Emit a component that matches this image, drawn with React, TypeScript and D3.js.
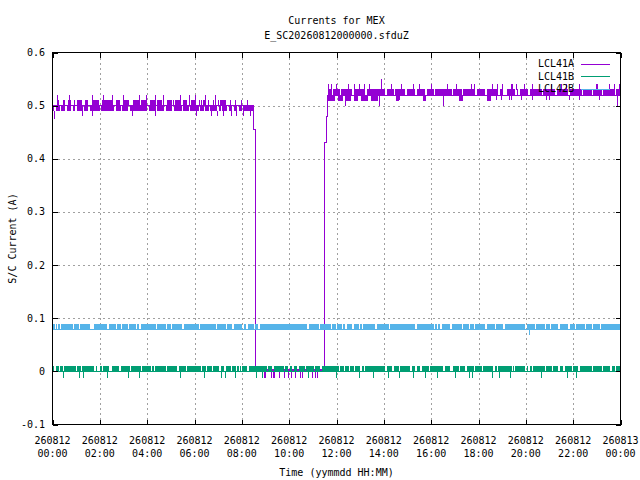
import React from 'react';
import * as d3 from 'd3';

const titleLines = ['Currents for MEX', 'E_SC20260812000000.sfduZ'];
const xLabel = 'Time (yymmdd HH:MM)';
const yLabel = 'S/C Current (A)';
const xTickHours = [0, 2, 4, 6, 8, 10, 12, 14, 16, 18, 20, 22, 24];
const xTickDates = ['260812', '260812', '260812', '260812', '260812', '260812', '260812', '260812', '260812', '260812', '260812', '260812', '260813'];
const xTickTimes = ['00:00', '02:00', '04:00', '06:00', '08:00', '10:00', '12:00', '14:00', '16:00', '18:00', '20:00', '22:00', '00:00'];
const yTicks = [-0.1, 0, 0.1, 0.2, 0.3, 0.4, 0.5, 0.6];
const yTickLabels = ['-0.1', '0', '0.1', '0.2', '0.3', '0.4', '0.5', '0.6'];
const seriesNames = ['LCL41A', 'LCL41B', 'LCL42B'];
const seriesColors = ['#9400d3', '#009e73', '#56b4e9'];

// ---- LCL41A ----
const lcl41aBase: [number, number][] = [[0, 0.5], [8.51, 0.455], [8.58, 0.0], [11.5, 0.43], [11.58, 0.48], [11.62, 0.52], [24, 0.52]];
const lcl41aBands: [number, number, number, number][] = [[0, 8.51, 0.49, 0.5], [8.58, 11.5, 0.0, 0.004], [11.62, 24, 0.52, 0.53]];
const lcl41aBlocks: [number, number, number, number][] = [
  [0.18, 0.29, 0.5, 0.51], [0.43, 0.53, 0.5, 0.51], [0.67, 0.77, 0.5, 0.51], [1.05, 1.23, 0.5, 0.51],
  [1.37, 1.51, 0.5, 0.51], [1.72, 1.97, 0.5, 0.51], [2.08, 2.5, 0.5, 0.51], [2.68, 2.85, 0.5, 0.51],
  [2.99, 3.2, 0.5, 0.51], [3.41, 3.69, 0.5, 0.51], [3.76, 3.94, 0.5, 0.51], [4.11, 4.32, 0.5, 0.51],
  [4.42, 4.61, 0.5, 0.51], [4.82, 5.03, 0.5, 0.51], [5.17, 5.38, 0.5, 0.51], [5.52, 5.69, 0.5, 0.51],
  [5.87, 6.08, 0.5, 0.51], [6.36, 6.5, 0.5, 0.51], [7.06, 7.35, 0.5, 0.51],
  [11.63, 11.92, 0.51, 0.52], [12.05, 12.26, 0.51, 0.52], [12.34, 12.62, 0.51, 0.52], [12.76, 12.9, 0.51, 0.52],
  [13.04, 13.32, 0.51, 0.52], [13.46, 13.74, 0.51, 0.52], [14.52, 14.66, 0.51, 0.52], [15.64, 15.78, 0.51, 0.52],
  [17.19, 17.33, 0.51, 0.52], [18.38, 18.52, 0.51, 0.52],
];
const lcl41aGaps = [
  0.11, 0.35, 0.57, 0.82, 0.99, 1.3, 1.55, 2.03, 2.64, 2.92, 3.24, 4.04, 4.4, 4.75, 5.1, 5.49, 5.8, 6.22,
  6.43, 6.64, 6.99, 7.14, 7.42, 7.63, 7.84, 8.02,
  11.84, 12.16, 12.69, 13.25, 14.1, 14.45, 14.94, 15.36, 15.78, 16.13, 16.9, 17.33, 17.89, 18.31, 18.87,
  19.08, 19.16, 19.58, 19.72, 20.14, 20.7, 21.27, 21.83, 22.39, 22.81, 23.23, 23.8,
];
const lcl41aSpikes: [number, number][] = [
  [0.2, 0.52], [0.71, 0.52], [1.65, 0.52], [2.14, 0.52], [2.5, 0.52], [2.99, 0.52], [3.65, 0.52], [3.97, 0.52],
  [4.32, 0.52], [4.67, 0.52], [5.38, 0.52], [5.76, 0.52], [6.01, 0.52], [6.43, 0.52], [6.85, 0.52],
  [0.45, 0.51], [0.9, 0.51], [1.2, 0.51], [1.4, 0.51], [1.9, 0.51], [2.3, 0.51], [2.7, 0.51], [3.2, 0.51],
  [3.4, 0.51], [3.8, 0.51], [4.1, 0.51], [4.5, 0.51], [4.9, 0.51], [5.1, 0.51], [5.5, 0.51], [5.9, 0.51],
  [6.2, 0.51], [6.29, 0.51], [6.55, 0.51], [6.78, 0.51], [7.0, 0.51], [7.25, 0.51], [7.49, 0.51], [7.73, 0.51],
  [7.95, 0.51], [8.22, 0.51],
  [0.08, 0.475], [1.26, 0.48], [1.68, 0.48], [3.34, 0.48], [4.32, 0.48], [6.08, 0.48], [6.71, 0.48], [6.93, 0.48],
  [7.2, 0.48], [7.56, 0.48], [7.77, 0.48], [8.05, 0.48], [8.33, 0.48],
  [8.61, -0.012], [8.93, -0.012], [8.99, -0.012], [9.24, -0.012], [9.31, -0.012], [9.38, -0.012], [9.56, -0.012],
  [9.78, -0.012], [9.95, -0.012], [10.09, -0.012], [10.26, -0.012], [10.44, -0.012], [10.55, -0.012],
  [10.97, -0.012], [11.11, -0.012], [11.16, -0.012],
  [11.63, 0.54], [11.78, 0.54], [11.99, 0.54], [12.48, 0.54], [12.76, 0.54], [12.97, 0.54], [13.18, 0.54],
  [13.39, 0.54], [13.88, 0.55], [14.31, 0.54], [14.73, 0.54], [15.22, 0.54], [15.5, 0.54], [15.99, 0.54],
  [16.69, 0.54], [17.05, 0.54], [17.68, 0.54], [17.82, 0.54], [18.59, 0.54], [18.8, 0.54], [19.01, 0.54],
  [19.37, 0.54], [19.43, 0.54], [19.58, 0.54], [19.93, 0.54], [20.28, 0.54], [21.05, 0.54], [21.48, 0.54],
  [21.69, 0.54], [22.25, 0.54], [22.95, 0.54], [23.02, 0.54], [23.51, 0.54], [23.72, 0.54], [23.94, 0.54],
  [12.1, 0.51], [12.34, 0.5], [13.78, 0.5], [14.66, 0.51], [15.71, 0.51], [16.48, 0.5], [17.26, 0.51],
  [18.38, 0.51], [18.73, 0.51], [18.95, 0.51], [19.3, 0.51], [19.37, 0.51], [19.79, 0.51], [20.28, 0.51],
  [20.84, 0.51], [20.98, 0.51], [21.83, 0.51], [22.25, 0.51], [23.09, 0.51], [23.86, 0.5],
];

// ---- LCL41B ----
const lcl41bBase: [number, number][] = [[0, 0.0], [24, 0.0]];
const lcl41bBands: [number, number, number, number][] = [[0, 24, 0.0, 0.01]];
const lcl41bGaps = [
  0.11, 0.29, 0.46, 1.02, 1.23, 1.79, 1.89, 1.97, 2.12, 2.43, 2.5, 2.85, 3.3, 3.76, 4.18, 4.32, 4.82, 5.3,
  5.66, 6.29, 6.5, 6.76, 7.07, 7.28, 7.57, 7.77, 7.91, 7.98, 8.26, 9.08, 9.31, 9.81, 9.99, 10.16, 10.37,
  10.69, 11.07, 11.35, 12.13, 12.34, 12.55, 12.76, 13.04, 13.18, 14.1, 14.38, 14.66, 15.15, 15.36, 15.57,
  15.92, 16.55, 16.84, 16.9, 17.19, 17.47, 17.82, 18.17, 18.66, 18.8, 19.43, 19.51, 20.0, 20.14, 20.28,
  20.84, 21.12, 21.4, 21.61, 21.96, 22.25, 22.81, 23.23, 23.59, 23.8,
];
const lcl41bSpikes: [number, number][] = [
  [0.46, -0.012], [1.12, -0.012], [1.3, -0.012], [2.29, -0.012], [3.2, -0.012], [3.65, -0.012], [5.38, -0.012],
  [6.4, -0.012], [7.14, -0.012], [7.3, -0.012], [7.73, -0.012], [8.61, -0.012], [8.87, -0.012], [10.79, -0.012],
  [11.99, -0.012], [12.97, -0.012], [13.56, -0.012], [14.16, -0.012], [14.66, -0.012], [15.22, -0.012],
  [15.74, -0.012], [16.23, -0.012], [17.01, -0.012], [17.58, -0.012], [17.71, -0.012], [18.55, -0.012],
  [18.87, -0.012], [19.35, -0.012], [20.62, -0.012], [21.73, -0.012], [22.13, -0.012],
];

// ---- LCL42B ----
const lcl42bBase: [number, number][] = [[0, 0.078], [24, 0.078]];
const lcl42bBands: [number, number, number, number][] = [[0, 24, 0.078, 0.088]];
const lcl42bGaps = [
  0.13, 0.2, 0.35, 0.88, 1.13, 1.62, 1.68, 1.74, 2.35, 2.71, 2.92, 3.2, 3.55, 3.69, 4.39, 4.82, 5.03, 5.52,
  6.22, 6.93, 7.35, 7.63, 8.05, 8.22, 8.54, 8.72, 10.79, 11.28, 11.78, 11.99, 12.26, 12.41, 12.69, 12.97,
  13.11, 13.67, 14.23, 15.36, 16.13, 16.27, 16.41, 16.84, 17.33, 17.61, 17.82, 18.31, 18.73, 19.05, 19.11,
  20.0, 20.42, 20.84, 21.05, 21.4, 21.83, 22.11, 22.53, 22.81, 23.16,
];
const lcl42bSpikes: [number, number][] = [[20.13, 0.068]];

const W = 640;
const H = 480;
const GAP_W = 0.06;
const FONT = "'DejaVu Sans Mono', monospace";

const xs = d3.scaleLinear().domain([0, 24]).range([52.5, 620.5]);
const ys = d3.scaleLinear().domain([-0.1, 0.6]).range([424.5, 52.5]);

function bandPieces(band: [number, number, number, number], gaps: number[]) {
  const [s, e] = band;
  const gs = gaps.filter((g) => g > s && g < e).sort((a, b) => a - b);
  const pieces: [number, number][] = [];
  let cur = s;
  for (const g of gs) {
    if (g - GAP_W / 2 > cur) pieces.push([cur, g - GAP_W / 2]);
    cur = Math.max(cur, g + GAP_W / 2);
  }
  if (cur < e) pieces.push([cur, e]);
  return pieces;
}

function Series({ base, bands, blocks, gaps, spikes, color }: {
  base: [number, number][];
  bands: [number, number, number, number][];
  blocks: [number, number, number, number][];
  gaps: number[];
  spikes: [number, number][];
  color: string;
}) {
  const line = d3.line<[number, number]>().x((d) => xs(d[0])).y((d) => ys(d[1])).curve(d3.curveStepAfter);
  const rects: React.ReactNode[] = [];
  bands.forEach((b, bi) => {
    bandPieces(b, gaps).forEach(([a, c], pi) => {
      rects.push(
        <rect key={`b${bi}-${pi}`} x={xs(a)} width={Math.max(0.5, xs(c) - xs(a))} y={ys(b[3]) - 0.5}
          height={ys(b[2]) - ys(b[3]) + 1} fill={color} />
      );
    });
  });
  blocks.forEach((b, i) => {
    rects.push(
      <rect key={`k${i}`} x={xs(b[0])} width={xs(b[1]) - xs(b[0])} y={ys(b[3]) - 0.5}
        height={ys(b[2]) - ys(b[3]) + 1} fill={color} />
    );
  });
  const spikeLines = spikes.map(([h, v], i) => {
    const band = bands.find((b) => h >= b[0] && h <= b[1]);
    const edge = band ? (v > band[3] ? band[3] : band[2]) : v;
    const x = Math.round(xs(h)) + 0.5;
    return <line key={`s${i}`} x1={x} x2={x} y1={ys(edge)} y2={ys(v)} stroke={color} strokeWidth={1} />;
  });
  return (
    <g shapeRendering="crispEdges">
      {rects}
      <path d={line(base) || ''} fill="none" stroke={color} strokeWidth={1} />
      {spikeLines}
    </g>
  );
}

export default function App() {
  const x0 = xs(0);
  const x1 = xs(24);
  const y0 = ys(-0.1);
  const y1 = ys(0.6);
  const cx = (x0 + x1) / 2;
  return (
    <svg width={W} height={H} style={{ position: 'absolute', left: 0, top: 0 }} fontFamily={FONT} fontSize={10}>
      <rect x={0} y={0} width={W} height={H} fill="#fff" />
      {/* grid */}
      <g shapeRendering="crispEdges" stroke="#a0a0a0" strokeWidth={1} strokeDasharray="2,3">
        {xTickHours.slice(1, -1).map((h) => (
          <line key={`gx${h}`} x1={Math.round(xs(h)) + 0.5} x2={Math.round(xs(h)) + 0.5} y1={y1} y2={y0} />
        ))}
        {yTicks.slice(1, -1).map((v) => (
          <line key={`gy${v}`} x1={x0} x2={x1} y1={Math.round(ys(v)) + 0.5} y2={Math.round(ys(v)) + 0.5} />
        ))}
      </g>
      {/* data */}
      <Series base={lcl41aBase} bands={lcl41aBands} blocks={lcl41aBlocks} gaps={lcl41aGaps} spikes={lcl41aSpikes} color={seriesColors[0]} />
      <Series base={lcl41bBase} bands={lcl41bBands} blocks={[]} gaps={lcl41bGaps} spikes={lcl41bSpikes} color={seriesColors[1]} />
      <Series base={lcl42bBase} bands={lcl42bBands} blocks={[]} gaps={lcl42bGaps} spikes={lcl42bSpikes} color={seriesColors[2]} />
      {/* border and ticks */}
      <g shapeRendering="crispEdges" stroke="#000" strokeWidth={1} fill="none">
        <rect x={x0} y={y1} width={x1 - x0} height={y0 - y1} />
        {xTickHours.map((h) => {
          const x = Math.round(xs(h)) + 0.5;
          return (
            <g key={`tx${h}`}>
              <line x1={x} x2={x} y1={y0} y2={y0 - 5} />
              <line x1={x} x2={x} y1={y1} y2={y1 + 5} />
            </g>
          );
        })}
        {yTicks.map((v) => {
          const y = Math.round(ys(v)) + 0.5;
          return (
            <g key={`ty${v}`}>
              <line x1={x0} x2={x0 + 5} y1={y} y2={y} />
              <line x1={x1} x2={x1 - 5} y1={y} y2={y} />
            </g>
          );
        })}
      </g>
      {/* tick labels */}
      <g fill="#000">
        {yTicks.map((v, i) => (
          <text key={`ly${v}`} x={45} y={ys(v) + 3.5} textAnchor="end">{yTickLabels[i]}</text>
        ))}
        {xTickHours.map((h, i) => (
          <g key={`lx${h}`}>
            <text x={xs(h)} y={443.5} textAnchor="middle">{xTickDates[i]}</text>
            <text x={xs(h)} y={457} textAnchor="middle">{xTickTimes[i]}</text>
          </g>
        ))}
        <text x={cx} y={476} textAnchor="middle">{xLabel}</text>
        <text transform={`translate(15.5,${(y0 + y1) / 2}) rotate(-90)`} textAnchor="middle">{yLabel}</text>
        <text x={cx} y={24} textAnchor="middle">{titleLines[0]}</text>
        <text x={cx} y={38.5} textAnchor="middle">{titleLines[1]}</text>
      </g>
      {/* legend */}
      <g>
        {seriesNames.map((n, i) => {
          const y = 63.5 + i * 12.5;
          return (
            <g key={n}>
              <text x={574} y={y + 3.5} textAnchor="end" fill="#000">{n}</text>
              <line x1={581} x2={610} y1={Math.round(y) + 0.5} y2={Math.round(y) + 0.5} stroke={seriesColors[i]} strokeWidth={1} shapeRendering="crispEdges" />
            </g>
          );
        })}
      </g>
    </svg>
  );
}
